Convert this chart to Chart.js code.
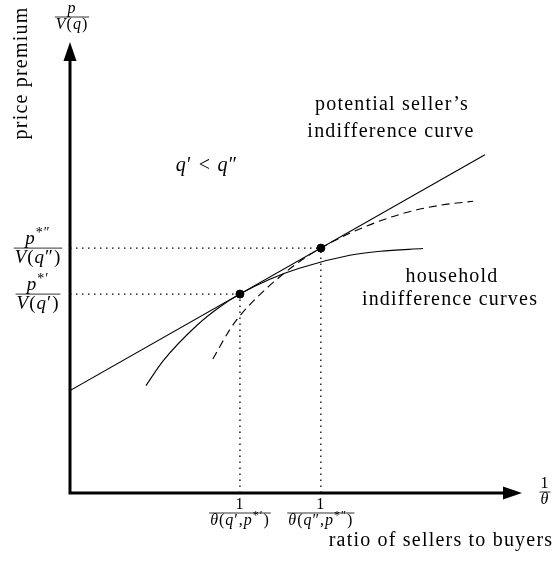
<!DOCTYPE html>
<html>
<head>
<meta charset="utf-8">
<script src="https://cdn.jsdelivr.net/npm/chart.js@4.4.1/dist/chart.umd.min.js"></script>
<style>
  body { margin: 0; background: #fff; }
  canvas { display: block; }
</style>
</head>
<body>
<canvas id="myChart" width="560" height="561"></canvas>
<script>
// data (x = 1/theta, y = p/V(q))
const sellerLineX = [0, 9.18];
const sellerLineY = [2.27, 7.50];

const householdAX = [1.68, 2.06, 2.81, 3.32, 3.76, 4.42, 5.09, 6.19, 6.86, 7.81];
const householdAY = [2.38, 2.93, 3.72, 4.13, 4.41, 4.74, 4.99, 5.27, 5.36, 5.42];

const householdBX = [3.16, 3.54, 3.76, 4.14, 4.65, 5.09, 5.55, 6.19, 7.30, 8.19, 8.92];
const householdBY = [2.97, 3.63, 3.93, 4.34, 4.80, 5.14, 5.43, 5.76, 6.18, 6.38, 6.47];

const tangencyX = [3.76, 5.55];
const tangencyY = [4.41, 5.43];

// tick labels as [text, style] runs: i = italic, r = roman, s = superscript, p = prime
const xTickNum = [[['1', 'r']], [['1', 'r']]];
const xTickDen = [
    [['θ', 'i'], ['(', 'r'], ['q', 'i'], ['′', 'p'], [',', 'r'], ['p', 'i'], ['*′', 's'], [')', 'r']],
    [['θ', 'i'], ['(', 'r'], ['q', 'i'], ['″', 'p'], [',', 'r'], ['p', 'i'], ['*″', 's'], [')', 'r']]
];
const yTickNum = [[['p', 'i'], ['*′', 's']], [['p', 'i'], ['*″', 's']]];
const yTickDen = [
    [['V', 'i'], ['(', 'r'], ['q', 'i'], ['′', 'p'], [')', 'r']],
    [['V', 'i'], ['(', 'r'], ['q', 'i'], ['″', 'p'], [')', 'r']]
];

const xTitle = 'ratio of sellers to buyers';
const yTitle = 'price premium';

const FONT = '"Liberation Serif", "DejaVu Serif", serif';
const SPACING = '1.2px';

function pts(xs, ys) {
    return xs.map((x, i) => ({ x: x, y: ys[i] }));
}

function setFont(ctx, style, size) {
    if (style === 'i') ctx.font = 'italic ' + size + 'px ' + FONT;
    else if (style === 's') ctx.font = Math.round(size * 0.72) + 'px ' + FONT;
    else ctx.font = size + 'px ' + FONT;
}

function runsWidth(ctx, segs, size) {
    let w = 0;
    segs.forEach(s => { setFont(ctx, s[1], size); w += ctx.measureText(s[0]).width; });
    return w;
}

function drawRuns(ctx, segs, cx, baseline, size) {
    let x = cx - runsWidth(ctx, segs, size) / 2;
    ctx.textAlign = 'left';
    ctx.textBaseline = 'alphabetic';
    segs.forEach(s => {
        setFont(ctx, s[1], size);
        const y = s[1] === 's' ? baseline - size * 0.38 : baseline;
        ctx.fillText(s[0], x, y);
        x += ctx.measureText(s[0]).width;
    });
}

function drawFrac(ctx, num, den, cx, ly, size) {
    const w = Math.max(runsWidth(ctx, num, size), runsWidth(ctx, den, size)) + 2;
    ctx.lineWidth = 0.8;
    ctx.beginPath();
    ctx.moveTo(cx - w / 2, ly);
    ctx.lineTo(cx + w / 2, ly);
    ctx.stroke();
    drawRuns(ctx, num, cx, ly - size * 0.22, size);
    drawRuns(ctx, den, cx, ly + size * 0.76, size);
}

function drawText(ctx, text, x, y, size) {
    ctx.font = size + 'px ' + FONT;
    ctx.textAlign = 'center';
    ctx.textBaseline = 'middle';
    ctx.fillText(text, x, y);
}

const diagram = {
    id: 'diagram',
    afterDatasetsDraw(chart) {
        const ctx = chart.ctx;
        const a = chart.chartArea;
        const xs = chart.scales.x, ys = chart.scales.y;
        const ox = xs.getPixelForValue(0), oy = ys.getPixelForValue(0);
        ctx.save();
        ctx.fillStyle = '#000';
        ctx.strokeStyle = '#000';
        ctx.letterSpacing = SPACING;

        // axes with arrow heads
        ctx.lineWidth = 3;
        ctx.beginPath();
        ctx.moveTo(ox, a.top + 14);
        ctx.lineTo(ox, oy);
        ctx.lineTo(a.right - 14, oy);
        ctx.stroke();
        ctx.beginPath();
        ctx.moveTo(ox, a.top);
        ctx.lineTo(ox - 6.5, a.top + 19);
        ctx.lineTo(ox + 6.5, a.top + 19);
        ctx.closePath();
        ctx.fill();
        ctx.beginPath();
        ctx.moveTo(a.right, oy);
        ctx.lineTo(a.right - 19, oy - 6.5);
        ctx.lineTo(a.right - 19, oy + 6.5);
        ctx.closePath();
        ctx.fill();

        // tick labels
        ctx.letterSpacing = '1px';
        tangencyX.forEach((v, i) => {
            drawFrac(ctx, xTickNum[i], xTickDen[i], xs.getPixelForValue(v), oy + 20, 16);
        });
        tangencyY.forEach((v, i) => {
            drawFrac(ctx, yTickNum[i], yTickDen[i], 38, ys.getPixelForValue(v), 19);
        });

        // axis end labels
        drawFrac(ctx, [['p', 'i']], [['V', 'i'], ['(', 'r'], ['q', 'i'], [')', 'r']], ox + 2, 17, 16);
        drawFrac(ctx, [['1', 'r']], [['θ', 'i']], 545, oy - 1, 16);

        // titles
        ctx.letterSpacing = SPACING;
        drawText(ctx, xTitle, 441, 541, 20);
        ctx.save();
        ctx.translate(22, 73);
        ctx.rotate(-Math.PI / 2);
        drawText(ctx, yTitle, 0, 0, 20);
        ctx.restore();

        // annotations
        drawText(ctx, 'potential seller\u2019s', 392, 105, 20);
        drawText(ctx, 'indifference curve', 391, 132, 20);
        drawText(ctx, 'household', 452, 277, 20);
        drawText(ctx, 'indifference curves', 450, 300, 20);
        drawRuns(ctx, [['q', 'i'], ['′', 'p'], [' < ', 'r'], ['q', 'i'], ['″', 'p']], 207, 171, 20);

        ctx.restore();
    }
};

const guideStyle = {
    showLine: true, borderColor: '#000', borderWidth: 1.3,
    borderDash: [1.5, 4.5], pointRadius: 0
};
const guides = [];
tangencyX.forEach((x, i) => {
    guides.push(Object.assign({ data: [{ x: 0, y: tangencyY[i] }, { x: x, y: tangencyY[i] }] }, guideStyle));
    guides.push(Object.assign({ data: [{ x: x, y: 0 }, { x: x, y: tangencyY[i] }] }, guideStyle));
});

const ctx = document.getElementById('myChart');
const myChart = new Chart(ctx, {
    type: 'scatter',
    data: {
        datasets: guides.concat([
            {
                label: 'potential seller',
                data: pts(sellerLineX, sellerLineY),
                showLine: true, borderColor: '#000', borderWidth: 1.1, pointRadius: 0
            },
            {
                label: "household q'",
                data: pts(householdAX, householdAY),
                showLine: true, borderColor: '#000', borderWidth: 1.1, pointRadius: 0,
                cubicInterpolationMode: 'monotone'
            },
            {
                label: "household q''",
                data: pts(householdBX, householdBY),
                showLine: true, borderColor: '#000', borderWidth: 1.1, pointRadius: 0,
                borderDash: [8, 5], cubicInterpolationMode: 'monotone'
            },
            {
                label: 'tangency',
                data: pts(tangencyX, tangencyY),
                showLine: false, pointRadius: 4, pointBackgroundColor: '#000', pointBorderColor: '#000'
            }
        ])
    },
    options: {
        responsive: false,
        animation: false,
        layout: { padding: { left: 70, right: 38, top: 42, bottom: 68 } },
        plugins: { legend: { display: false }, tooltip: { enabled: false } },
        scales: {
            x: { type: 'linear', min: 0, max: 10, display: false },
            y: { type: 'linear', min: 0, max: 10, display: false }
        }
    },
    plugins: [diagram]
});
</script>
</body>
</html>
